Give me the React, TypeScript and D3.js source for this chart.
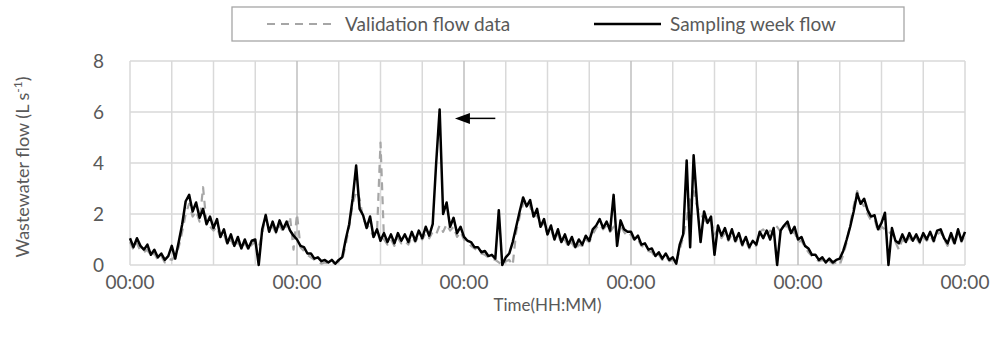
import React from 'react';
import * as d3 from 'd3';

// Flow values (L/s) sampled every 0.5 h, one array per day
const samplingDay1 = [1.05,0.7,1.05,0.75,0.6,0.8,0.4,0.6,0.3,0.45,0.2,0.35,0.75,0.25,0.9,1.6,2.5,2.75,2.1,2.45,1.85,2.2,1.6,1.9,1.45,1.8,1.1,1.4,0.85,1.2,0.75,1.1,0.65,1.0,0.65,0.95,1.0,0.0,1.4,1.95,1.3,1.7,1.3,1.75,1.4,1.7,1.35,1.15];
const samplingDay2 = [1.0,0.75,0.7,0.45,0.45,0.25,0.3,0.15,0.2,0.1,0.2,0.05,0.2,0.3,1.0,1.6,2.6,3.9,2.2,1.95,1.45,1.9,1.1,1.4,0.95,1.25,0.9,1.2,0.85,1.25,0.95,1.2,0.9,1.3,0.95,1.35,1.05,1.5,1.15,1.6,4.0,6.1,2.0,2.45,1.5,1.85,1.25,1.5];
const samplingDay3 = [1.1,0.95,0.9,0.7,0.7,0.5,0.55,0.35,0.4,0.25,2.15,0.0,0.3,0.45,0.9,1.5,2.1,2.65,2.3,2.55,1.9,2.2,1.5,1.8,1.2,1.55,1.0,1.4,0.9,1.2,0.8,1.1,0.7,1.0,0.8,1.15,0.95,1.4,1.55,1.8,1.45,1.7,1.35,2.75,0.75,1.75,1.4,1.3];
const samplingDay4 = [1.3,1.0,1.15,0.8,0.85,0.6,0.65,0.35,0.5,0.25,0.45,0.2,0.3,0.05,0.8,1.2,4.1,0.7,4.3,2.4,0.9,2.1,1.65,1.9,0.4,1.55,1.15,1.45,1.0,1.4,0.95,1.25,0.8,1.1,0.7,0.95,0.8,1.3,1.05,1.35,1.0,1.45,0.0,1.35,1.55,1.7,1.25,1.5];
const samplingDay5 = [1.0,1.1,0.75,0.65,0.4,0.4,0.2,0.3,0.1,0.25,0.1,0.2,0.25,0.55,1.0,1.5,2.1,2.8,2.4,2.6,2.15,1.9,1.95,1.4,1.65,2.05,0.0,1.45,0.95,0.85,1.2,0.9,1.25,0.95,1.2,0.9,1.25,1.0,1.3,0.95,1.35,1.4,1.05,0.85,1.25,0.85,1.4,0.95,1.3];

const validationDay1 = [0.9,0.6,0.85,0.55,0.5,0.6,0.35,0.45,0.2,0.35,0.1,0.25,0.2,0.35,0.7,1.3,2.0,2.4,1.9,2.1,1.7,3.05,1.6,1.5,1.35,1.5,1.05,1.2,0.8,1.0,0.7,0.9,0.65,0.85,0.6,0.8,0.9,0.7,1.2,2.0,1.3,1.5,1.25,1.55,1.3,1.55,1.9,0.6];
const validationDay2 = [2.0,0.7,0.55,0.4,0.3,0.2,0.15,0.05,0.1,0.05,0.1,0.05,0.15,0.2,0.8,1.5,2.4,2.9,2.6,1.8,1.6,1.4,1.1,1.3,4.8,1.0,0.8,1.0,0.75,1.05,0.85,0.95,0.8,1.1,0.9,1.15,1.0,1.25,1.05,1.3,1.2,1.55,1.3,1.6,1.35,1.5,1.1,1.3];
const validationDay3 = [1.0,0.9,0.75,0.65,0.55,0.45,0.4,0.3,0.25,0.2,0.1,0.0,0.15,0.2,0.0,1.3,1.9,2.4,2.6,2.3,1.9,1.95,1.5,1.65,1.2,1.4,1.0,1.2,0.85,1.0,0.7,0.9,0.6,0.8,0.75,1.0,0.9,1.2,1.45,1.6,1.4,1.55,1.3,1.5,1.2,1.55,1.3,1.1];
const validationDay4 = [1.2,0.95,1.0,0.75,0.7,0.55,0.5,0.3,0.4,0.2,0.35,0.15,0.2,0.1,0.6,1.1,1.8,2.6,2.9,2.3,2.0,1.8,1.6,1.7,1.2,1.4,1.05,1.25,0.95,1.2,0.9,1.1,0.75,0.95,0.65,0.8,0.75,1.3,1.4,1.2,1.35,1.25,1.5,1.3,1.45,1.55,1.2,1.3];
const validationDay5 = [0.9,0.95,0.7,0.5,0.35,0.25,0.15,0.2,0.1,0.15,0.05,0.1,0.0,0.4,0.9,1.6,2.3,2.9,2.5,2.3,2.0,1.75,1.8,1.3,1.5,1.4,1.25,1.3,0.9,0.6,1.0,0.85,1.1,0.9,1.05,0.85,1.1,0.95,1.15,0.9,1.2,1.3,1.0,0.75,1.1,0.8,1.25,0.9,1.2];

const sampling = [...samplingDay1, ...samplingDay2, ...samplingDay3, ...samplingDay4, ...samplingDay5];
const validation = [...validationDay1, ...validationDay2, ...validationDay3, ...validationDay4, ...validationDay5];

const STEP_HOURS = 0.5;
const xTickHours = [0, 24, 48, 72, 96, 120];
const xTickLabels = ['00:00', '00:00', '00:00', '00:00', '00:00', '00:00'];
const yTicks = [0, 2, 4, 6, 8];
const legendLabels = ['Validation flow data', 'Sampling week flow'];
const arrowNote = { fromHour: 52.5, toHour: 46.7, value: 5.75 };

const FONT = 'Lato, "Open Sans", sans-serif';
const TEXT = '#595959';

export default function App() {
  const W = 994, H = 343;
  const left = 130, right = 965, top = 61, bottom = 265;
  const x = d3.scaleLinear().domain([0, 120]).range([left, right]);
  const y = d3.scaleLinear().domain([0, 8]).range([bottom, top]);
  const line = d3.line<number>().x((_, i) => x(i * STEP_HOURS)).y(d => y(d));
  const gridHours = d3.range(0, 121, 6);

  const ax = x(arrowNote.toHour);
  const ay = y(arrowNote.value);
  const bx = x(arrowNote.fromHour);

  return (
    <svg width={W} height={H} style={{ position: 'absolute', left: 0, top: 0, background: '#fff' }}>
      <rect x={0} y={0} width={W} height={H} fill="#fff" />
      {/* legend */}
      <rect x={232} y={7} width={672} height={34} fill="#fff" stroke="#a6a6a6" strokeWidth={1.3} />
      <line x1={267} x2={335} y1={24} y2={24} stroke="#a6a6a6" strokeWidth={2} strokeDasharray="8,6" />
      <text x={345} y={24} dy="0.35em" fontFamily={FONT} fontSize={19} fill={TEXT}>{legendLabels[0]}</text>
      <line x1={594} x2={661} y1={24} y2={24} stroke="#000" strokeWidth={2.5} />
      <text x={670} y={24} dy="0.35em" fontFamily={FONT} fontSize={19} fill={TEXT}>{legendLabels[1]}</text>

      {/* grid */}
      {yTicks.map(t => (
        <line key={'h' + t} x1={left} x2={right} y1={y(t)} y2={y(t)} stroke="#d9d9d9" strokeWidth={1.5} />
      ))}
      {gridHours.map(h => (
        <line key={'v' + h} x1={x(h)} x2={x(h)} y1={top} y2={bottom}
          stroke={h % 24 === 0 && h > 0 && h < 120 ? '#bfbfbf' : '#d9d9d9'} strokeWidth={1.5} />
      ))}

      {/* series */}
      <path d={line(validation) || ''} fill="none" stroke="#a6a6a6" strokeWidth={2.2} strokeDasharray="8,6" strokeLinejoin="round" />
      <path d={line(sampling) || ''} fill="none" stroke="#000" strokeWidth={2.5} strokeLinejoin="round" />

      {/* arrow annotation */}
      <line x1={bx} x2={ax + 14} y1={ay} y2={ay} stroke="#000" strokeWidth={1.5} />
      <path d={`M${ax},${ay} L${ax + 15},${ay - 5.5} L${ax + 15},${ay + 5.5} Z`} fill="#000" />

      {/* y ticks */}
      {yTicks.map(t => (
        <text key={'yt' + t} x={104} y={y(t)} dy="0.35em" textAnchor="end" fontFamily={FONT} fontSize={19} fill={TEXT}>{t}</text>
      ))}
      {/* x ticks */}
      {xTickHours.map((h, i) => (
        <text key={'xt' + i} x={x(h)} y={282} dy="0.35em" textAnchor="middle" fontFamily={FONT} fontSize={19} fill={TEXT}>{xTickLabels[i]}</text>
      ))}
      <text x={(left + right) / 2} y={305} dy="0.35em" textAnchor="middle" fontFamily={FONT} fontSize={17} fill={TEXT}>Time(HH:MM)</text>
      <text transform={`translate(23,${(top + bottom) / 2 + 4}) rotate(-90)`} textAnchor="middle" dy="0.35em" fontFamily={FONT} fontSize={18} fill={TEXT}>
        Wastewater flow (L s<tspan dy="-7" fontSize={12}>-1</tspan><tspan dy="7">)</tspan>
      </text>
    </svg>
  );
}
